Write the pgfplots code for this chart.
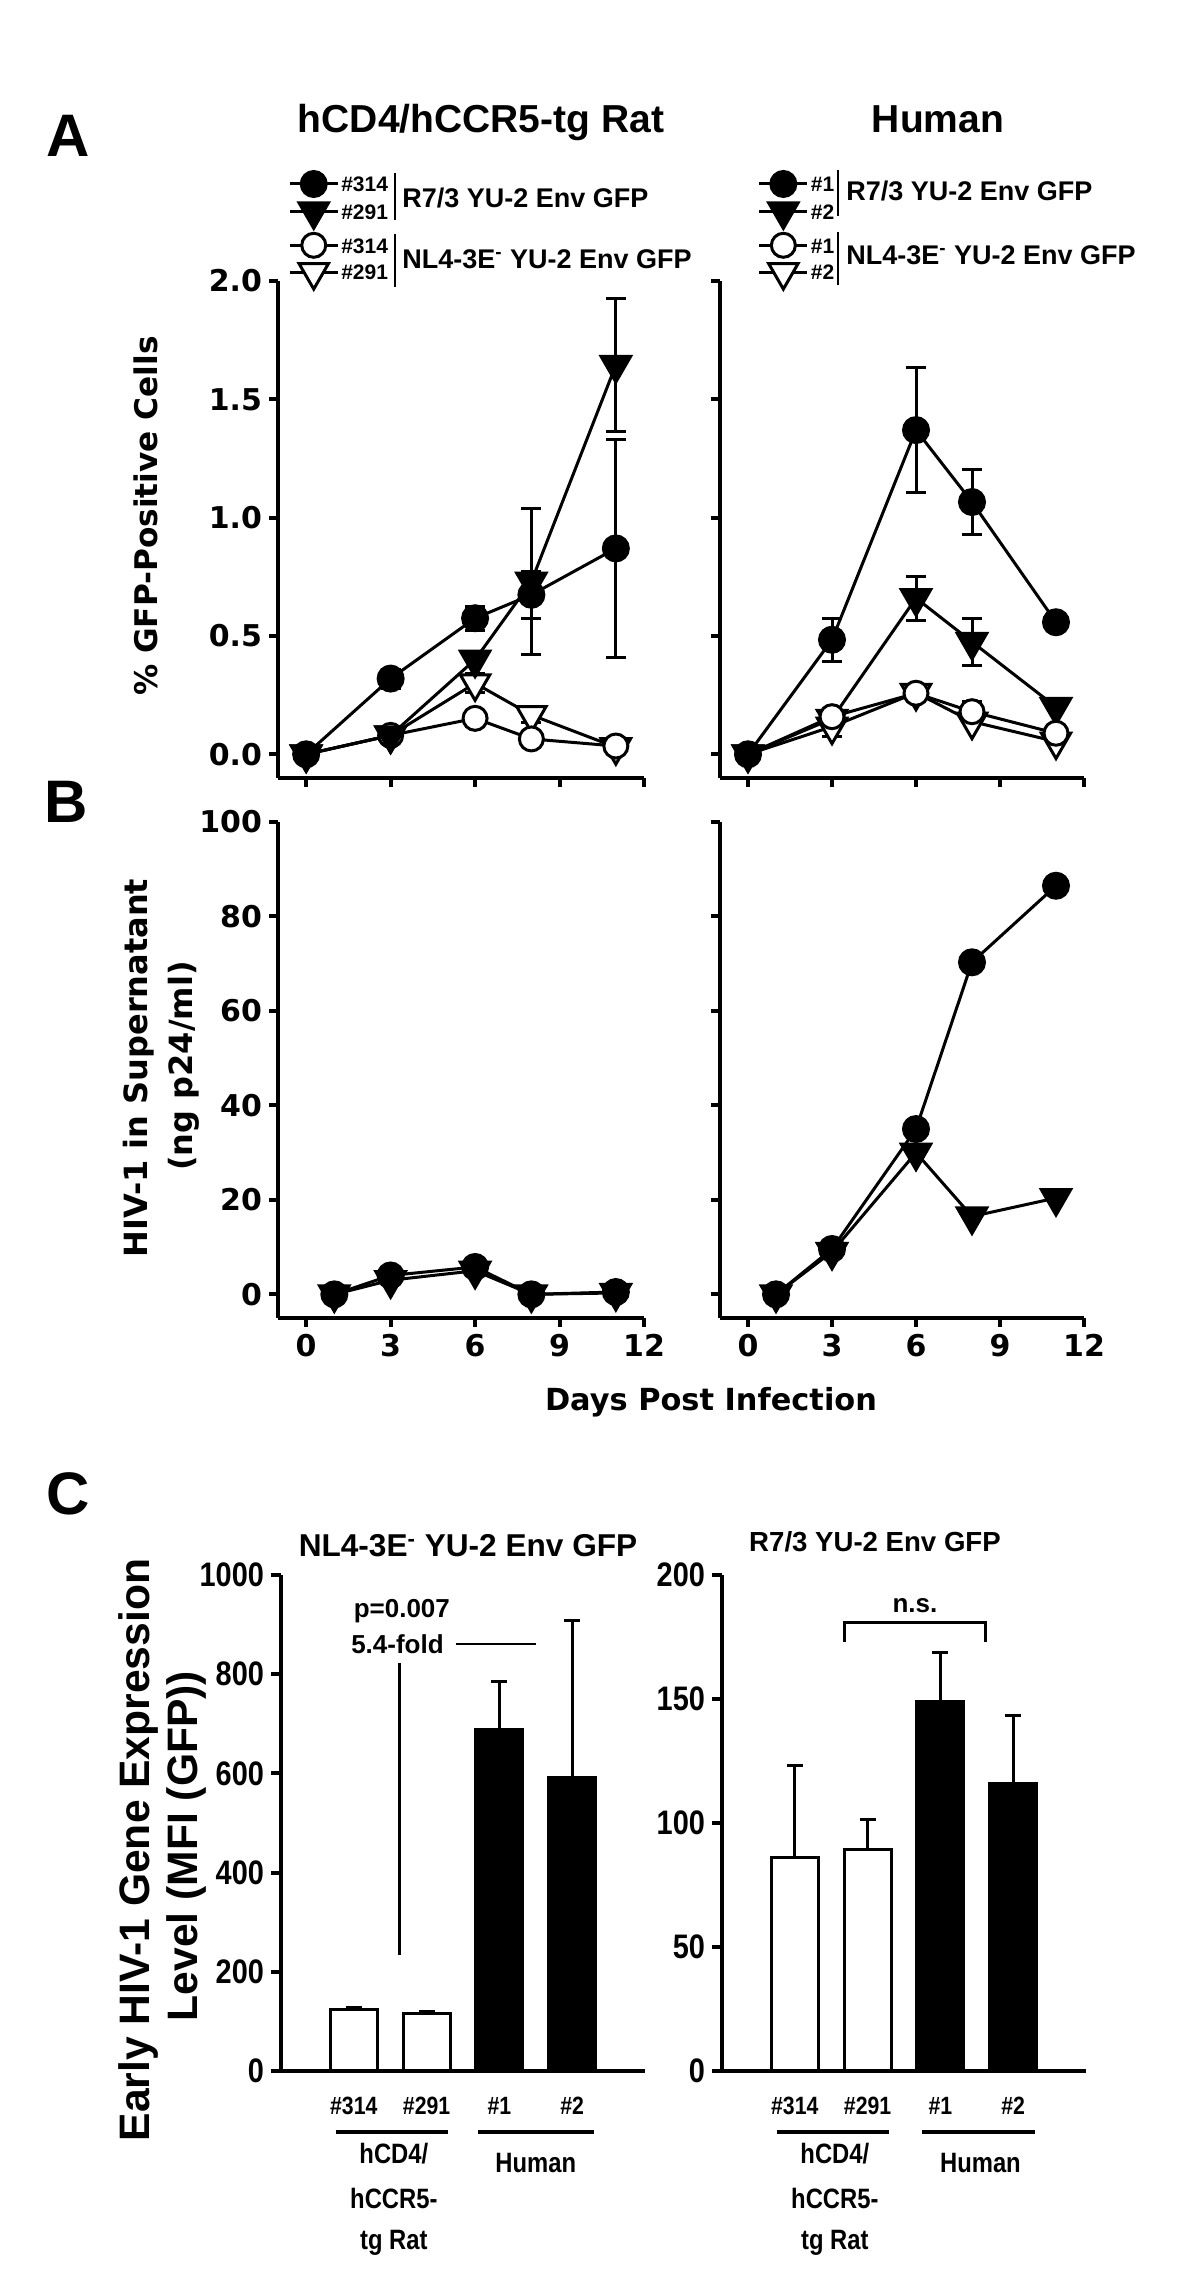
\documentclass[border=0pt]{standalone}
\usepackage{fontspec}
\setmainfont{Liberation Sans}
\newfontfamily\dv{DejaVu Sans}
\usepackage{pgfplots}
\pgfplotsset{compat=1.18}
\newcommand\tkA{\dv\bfseries\fontsize{15}{18}\selectfont}
\newcommand\tkC{\bfseries\fontsize{17}{19}\selectfont}
\newcommand\cf{\bfseries\fontsize{14}{16}\selectfont}
\newcommand\nc[1]{\scalebox{0.85}[1]{#1}}
\begin{document}
\begin{tikzpicture}
\path[use as bounding box] (0pt,0pt) rectangle (600pt,1148pt);
\pgfplotsset{
  gp/.style={scale only axis, clip=false, anchor=south west,
    axis lines*=left,
    axis line style={line width=2pt,-},
    tick style={line width=2pt,black},
    tick align=outside, major tick length=4.5pt,
    /pgf/number format/assume math mode=true,
    /pgf/number format/1000 sep={},
    ticklabel style={font=\tkA},
    legend cell align=left,
    legend image code/.code={\draw[mark repeat=2,mark phase=2,##1] plot coordinates {(0pt,0pt) (12pt,0pt) (24pt,0pt)};},
  },
  ts/.style={line width=1.5pt,black},
  fc/.style={ts,mark=*,mark size=6.25pt,mark options={fill=black,solid}},
  ft/.style={ts,mark=triangle*,mark size=8.5pt,mark options={fill=black,rotate=180,solid}},
  oc/.style={ts,mark=*,mark size=6pt,mark options={fill=white,solid}},
  ot/.style={ts,mark=triangle*,mark size=8.5pt,mark options={fill=white,rotate=180,solid}},
  eb/.style={/pgfplots/error bars/y dir=both,/pgfplots/error bars/y explicit,
    /pgfplots/error bars/error bar style={line width=1.5pt,black},
    /pgfplots/error bars/error mark options={rotate=90,mark size=5pt,line width=1.5pt,black}},
  cb/.style={/pgfplots/error bars/y dir=plus,/pgfplots/error bars/y explicit,
    /pgfplots/error bars/error bar style={line width=1.5pt,black},
    /pgfplots/error bars/error mark options={rotate=90,mark size=4pt,line width=1.5pt,black}},
  lg/.style={legend style={draw=none,fill=none,anchor=north west,inner sep=0pt,outer sep=0pt,row sep=2.5pt,
    font=\bfseries\fontsize{10.5}{12}\selectfont,nodes={inner sep=1pt,text height=7.8pt,text depth=0pt}}},
  cax/.style={gp,width=182pt,height=248pt,xmin=0,xmax=5,ymin=0,
    ticklabel style={font=\tkC},major tick length=5pt,
    yticklabel={\nc{\pgfmathprintnumber{\tick}}},
    xtick={1,2,3,4},xticklabels={\nc{\#314},\nc{\#291},\nc{\#1},\nc{\#2}},
    x tick style={draw=none},
    xticklabel style={anchor=base,yshift=-16.5pt,font=\bfseries\fontsize{12.5}{14}\selectfont}},
}
% panel letters
\node[font=\bfseries\fontsize{30}{32}\selectfont] at (34pt,1080pt) {A};
\node[font=\bfseries\fontsize{30}{32}\selectfont] at (33pt,747pt) {B};
\node[font=\bfseries\fontsize{30}{32}\selectfont] at (34pt,401pt) {C};
% titles
\node[anchor=base,font=\bfseries\fontsize{19.5}{22}\selectfont] at (240.5pt,1081.5pt) {hCD4/hCCR5-tg Rat};
\node[anchor=base,font=\bfseries\fontsize{19.5}{22}\selectfont] at (469pt,1081.5pt) {Human};
% legend brackets and group texts
\draw[line width=1.3pt] (197.5pt,1061.5pt) -- (197.5pt,1038pt);
\draw[line width=1.3pt] (197.5pt,1031pt) -- (197.5pt,1004.5pt);
\draw[line width=1.3pt] (419pt,1063pt) -- (419pt,1040pt);
\draw[line width=1.3pt] (419pt,1032pt) -- (419pt,1005.5pt);
\node[anchor=base west,inner sep=0pt,font=\bfseries\fontsize{13.5}{15}\selectfont] at (201pt,1044pt) {R7/3 YU-2 Env GFP};
\node[anchor=base west,inner sep=0pt,font=\bfseries\fontsize{13.5}{15}\selectfont] at (201pt,1013.5pt) {NL4-3E\textsuperscript{-} YU-2 Env GFP};
\node[anchor=base west,inner sep=0pt,font=\bfseries\fontsize{13.5}{15}\selectfont] at (423pt,1047.5pt) {R7/3 YU-2 Env GFP};
\node[anchor=base west,inner sep=0pt,font=\bfseries\fontsize{13.5}{15}\selectfont] at (423pt,1015.5pt) {NL4-3E\textsuperscript{-} YU-2 Env GFP};
% axis labels
\node[rotate=90,font=\dv\bfseries\fontsize{15.6}{18}\selectfont] at (73pt,890pt) {\% GFP-Positive Cells};
\node[rotate=90,font=\dv\bfseries\fontsize{16}{18}\selectfont] at (69.5pt,614pt) {HIV-1 in Supernatant};
\node[rotate=90,font=\dv\bfseries\fontsize{16}{18}\selectfont] at (92pt,615pt) {(ng p24/ml)};
\node[font=\dv\bfseries\fontsize{15.2}{18}\selectfont] at (355.5pt,447pt) {Days Post Infection};
\node[rotate=90,font=\bfseries\fontsize{21.3}{23}\selectfont] at (69pt,223pt) {Early HIV-1 Gene Expression};
\node[rotate=90,font=\bfseries\fontsize{21.3}{23}\selectfont] at (93pt,225pt) {Level (MFI (GFP))};
\node[anchor=base,font=\bfseries\fontsize{15.8}{18}\selectfont] at (234pt,369.5pt) {NL4-3E\textsuperscript{-} YU-2 Env GFP};
\node[anchor=base,font=\bfseries\fontsize{13.8}{16}\selectfont] at (437.5pt,372pt) {R7/3 YU-2 Env GFP};

% ---------------- A left
\begin{axis}[gp,lg,at={(139pt,759pt)},width=183pt,height=248.5pt,
  xmin=-1,xmax=12,ymin=-0.1,ymax=2,xtick={0,3,6,9,12},xticklabels={},
  ytick={0,0.5,1,1.5,2},
  yticklabel style={/pgf/number format/.cd,fixed,fixed zerofill,precision=1},
  legend style={at={(0.028,1.2203)},/tikz/every even column/.append style={column sep=0pt}}]
\addlegendimage{fc}\addlegendentry{\#314}
\addlegendimage{ft}\addlegendentry{\#291}
\addlegendimage{oc}\addlegendentry{\#314}
\addlegendimage{ot}\addlegendentry{\#291}
\addplot[ot,eb,forget plot] table[x=x,y=y,y error=e,row sep=\\] {x y e\\ 0 0 0\\ 3 0.08 0\\ 6 0.30 0.04\\ 8 0.166 0.03\\ 11 0.03 0\\};
\addplot[oc,eb,forget plot] table[x=x,y=y,y error=e,row sep=\\] {x y e\\ 0 0 0\\ 3 0.08 0\\ 6 0.152 0\\ 8 0.065 0\\ 11 0.035 0\\};
\addplot[ft,eb,forget plot] table[x=x,y=y,y error=e,row sep=\\] {x y e\\ 0 0 0\\ 3 0.08 0\\ 6 0.40 0\\ 8 0.73 0.31\\ 11 1.645 0.28\\};
\addplot[fc,eb,forget plot] table[x=x,y=y,y error=e,row sep=\\] {x y e\\ 0 0 0\\ 3 0.32 0.04\\ 6 0.575 0.05\\ 8 0.674 0.1\\ 11 0.87 0.46\\};
\end{axis}

% ---------------- A right
\begin{axis}[gp,lg,at={(360pt,759pt)},width=182pt,height=248.5pt,
  xmin=-1,xmax=12,ymin=-0.1,ymax=2,xtick={0,3,6,9,12},xticklabels={},
  ytick={0,0.5,1,1.5,2},yticklabels={},
  legend style={at={(0.104,1.2203)},/tikz/every even column/.append style={column sep=3pt}}]
\addlegendimage{fc}\addlegendentry{\#1}
\addlegendimage{ft}\addlegendentry{\#2}
\addlegendimage{oc}\addlegendentry{\#1}
\addlegendimage{ot}\addlegendentry{\#2}
\addplot[ft,eb,forget plot] table[x=x,y=y,y error=e,row sep=\\] {x y e\\ 0 0 0\\ 3 0.15 0\\ 6 0.66 0.093\\ 8 0.475 0.1\\ 11 0.20 0\\};
\addplot[ot,eb,forget plot] table[x=x,y=y,y error=e,row sep=\\] {x y e\\ 0 0 0\\ 3 0.117 0.04\\ 6 0.26 0\\ 8 0.138 0\\ 11 0.054 0\\};
\addplot[oc,eb,forget plot] table[x=x,y=y,y error=e,row sep=\\] {x y e\\ 0 0 0\\ 3 0.159 0\\ 6 0.258 0\\ 8 0.18 0.045\\ 11 0.089 0\\};
\addplot[fc,eb,forget plot] table[x=x,y=y,y error=e,row sep=\\] {x y e\\ 0 0 0\\ 3 0.484 0.09\\ 6 1.37 0.265\\ 8 1.066 0.137\\ 11 0.558 0\\};
\end{axis}

% ---------------- B left
\begin{axis}[gp,at={(139pt,489pt)},width=183pt,height=248pt,
  xmin=-1,xmax=12,ymin=-5,ymax=100,xtick={0,3,6,9,12},ytick={0,20,40,60,80,100}]
\addplot[ft] table[row sep=\\] {1 0\\ 3 3.0\\ 6 5.0\\ 8 0\\ 11 0.3\\};
\addplot[fc] table[row sep=\\] {1 0\\ 3 4.0\\ 6 5.8\\ 8 0\\ 11 0.5\\};
\end{axis}

% ---------------- B right
\begin{axis}[gp,at={(360pt,489pt)},width=182pt,height=248pt,
  xmin=-1,xmax=12,ymin=-5,ymax=100,xtick={0,3,6,9,12},ytick={0,20,40,60,80,100},yticklabels={}]
\addplot[ft] table[row sep=\\] {1 0\\ 3 9\\ 6 30\\ 8 16.5\\ 11 20.4\\};
\addplot[fc] table[row sep=\\] {1 0\\ 3 9.6\\ 6 35\\ 8 70.3\\ 11 86.5\\};
\end{axis}

% ---------------- C left
\begin{axis}[cax,at={(140.5pt,112.5pt)},ymax=1000,ytick={0,200,400,600,800,1000}]
\addplot[ybar,bar width=23.5pt,bar shift=0pt,fill=white,draw=black,line width=1.5pt,cb] table[x=x,y=y,y error=e,row sep=\\] {x y e\\ 1 123 5\\ 2 116 4\\};
\addplot[ybar,bar width=23.5pt,bar shift=0pt,fill=black,draw=black,line width=1.5pt,cb] table[x=x,y=y,y error=e,row sep=\\] {x y e\\ 3 689 96\\ 4 592 316\\};
\draw[line width=1.3pt] (axis cs:1.63,234) -- (axis cs:1.63,822);
\draw[line width=1.3pt] (axis cs:2.4,861) -- (axis cs:3.5,861);
\node[anchor=base,inner sep=0pt,font=\bfseries\fontsize{13}{15}\selectfont] at (axis cs:1.6,841) {5.4-fold};
\node[anchor=base,inner sep=0pt,font=\bfseries\fontsize{13}{15}\selectfont] at (axis cs:1.66,915) {p=0.007};
\draw[line width=2.2pt] ([yshift=-30.5pt]axis cs:0.75,0) -- ([yshift=-30.5pt]axis cs:2.3,0);
\draw[line width=2.2pt] ([yshift=-30.5pt]axis cs:2.7,0) -- ([yshift=-30.5pt]axis cs:4.3,0);
\node[anchor=base,font=\cf] at ([yshift=-46pt]axis cs:1.55,0) {\nc{hCD4/}};
\node[anchor=base,font=\cf] at ([yshift=-68.5pt]axis cs:1.55,0) {\nc{hCCR5-}};
\node[anchor=base,font=\cf] at ([yshift=-89pt]axis cs:1.55,0) {\nc{tg Rat}};
\node[anchor=base,font=\cf] at ([yshift=-50.5pt]axis cs:3.5,0) {\nc{Human}};
\end{axis}

% ---------------- C right
\begin{axis}[cax,at={(361pt,112.5pt)},ymax=200,ytick={0,50,100,150,200}]
\addplot[ybar,bar width=23.5pt,bar shift=0pt,fill=white,draw=black,line width=1.5pt,cb] table[x=x,y=y,y error=e,row sep=\\] {x y e\\ 1 86 37\\ 2 89.5 12\\};
\addplot[ybar,bar width=23.5pt,bar shift=0pt,fill=black,draw=black,line width=1.5pt,cb] table[x=x,y=y,y error=e,row sep=\\] {x y e\\ 3 149 19.7\\ 4 116 27.3\\};
\draw[line width=1.5pt] (axis cs:1.68,173) |- (axis cs:3.62,180.7) -- (axis cs:3.62,173);
\node[anchor=base,inner sep=0pt,font=\bfseries\fontsize{13}{15}\selectfont] at (axis cs:2.65,185) {n.s.};
\draw[line width=2.2pt] ([yshift=-30.5pt]axis cs:0.75,0) -- ([yshift=-30.5pt]axis cs:2.3,0);
\draw[line width=2.2pt] ([yshift=-30.5pt]axis cs:2.75,0) -- ([yshift=-30.5pt]axis cs:4.3,0);
\node[anchor=base,font=\cf] at ([yshift=-46pt]axis cs:1.55,0) {\nc{hCD4/}};
\node[anchor=base,font=\cf] at ([yshift=-68.5pt]axis cs:1.55,0) {\nc{hCCR5-}};
\node[anchor=base,font=\cf] at ([yshift=-89pt]axis cs:1.55,0) {\nc{tg Rat}};
\node[anchor=base,font=\cf] at ([yshift=-50.5pt]axis cs:3.55,0) {\nc{Human}};
\end{axis}
\end{tikzpicture}
\end{document}
